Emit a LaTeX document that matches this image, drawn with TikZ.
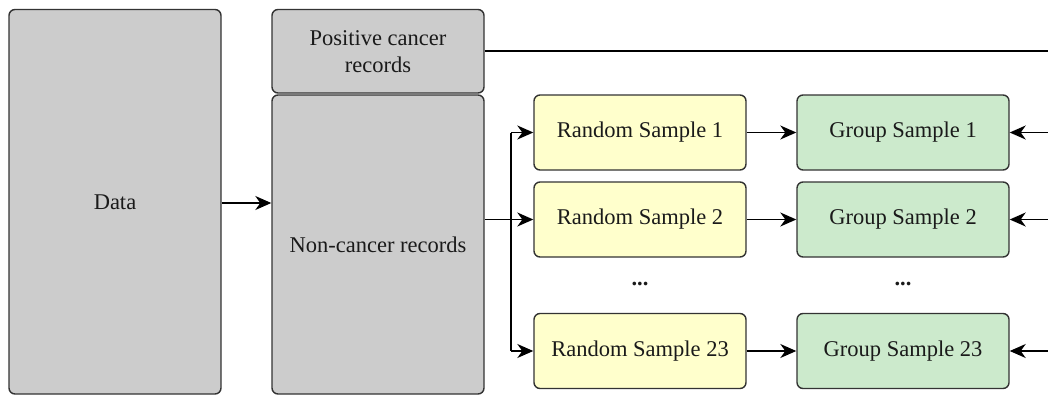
\documentclass[tikz,border=0pt]{standalone}
\usepackage{fontspec}
\setmainfont{Liberation Serif}
\newfontfamily\labelface{Liberation Serif}
\usetikzlibrary{arrows.meta}
\definecolor{boxgray}{HTML}{CCCCCC}
\definecolor{boxyellow}{HTML}{FFFFCC}
\definecolor{boxgreen}{HTML}{CCEACC}
\definecolor{edgecol}{HTML}{333333}
\definecolor{txtcol}{HTML}{1A1A1A}
\begin{document}
\begin{tikzpicture}[x=1pt, y=-1pt,
  box/.style={draw=edgecol, line width=1.4pt, rounded corners=6pt,
    minimum width=212pt, inner sep=0pt, align=center, text=txtcol,
    font=\labelface\fontsize{22.5}{27}\selectfont},
  graybox/.style={box, fill=boxgray},
  samplebox/.style={box, fill=boxyellow, minimum height=75pt},
  groupbox/.style={box, fill=boxgreen, minimum height=75pt},
  link/.style={draw=black, line width=1.5pt},
  arr/.style={link, -{Stealth[length=16pt, width=14pt, inset=5pt]}},
  dots/.style={font=\labelface\fontsize{22.5}{27}\selectfont\bfseries, text=txtcol}
]
\useasboundingbox (0,0) rectangle (1048,396);

% source data and its two partitions
\node[graybox, minimum height=384.5pt] (data) at (115,201.75) {Data};
\node[graybox, minimum height=83.5pt] (pos) at (378,51.25) {Positive cancer\\records};
\node[graybox, minimum height=299pt] (neg) at (378,244.5) {Non-cancer records};

% random samples drawn from the non-cancer records
\node[samplebox] (rs1) at (640,132.5) {Random Sample 1};
\node[samplebox] (rs2) at (640,219.5) {Random Sample 2};
\node[samplebox] (rs23) at (640,351) {Random Sample 23};
\node[dots] (rsdots) at (640,284) {...};

% grouped samples
\node[groupbox] (gs1) at (903,132.5) {Group Sample 1};
\node[groupbox] (gs2) at (903,219.5) {Group Sample 2};
\node[groupbox] (gs23) at (903,351) {Group Sample 23};
\node[dots] (gsdots) at (903,284) {...};

% helper points
\coordinate (split) at (511,0);
\coordinate (edge) at (1048,0);

% connectors
\draw[arr] (data.east |- 0,203) -- (neg.west |- 0,203);
\draw[arr] (rs2.west -| neg.east) -- (rs2.west);
\draw[link] (split |- rs1) -- (split |- rs23);
\draw[arr] (split |- rs1) -- (rs1.west);
\draw[arr] (split |- rs23) -- (rs23.west);

\draw[arr] (rs1.east) -- (gs1.west);
\draw[arr] (rs2.east) -- (gs2.west);
\draw[arr] (rs23.east) -- (gs23.west);

\draw[link] (pos.east) -- (pos.east -| edge);
\draw[arr] (gs1.east -| edge) -- (gs1.east);
\draw[arr] (gs2.east -| edge) -- (gs2.east);
\draw[arr] (gs23.east -| edge) -- (gs23.east);
\end{tikzpicture}
\end{document}
